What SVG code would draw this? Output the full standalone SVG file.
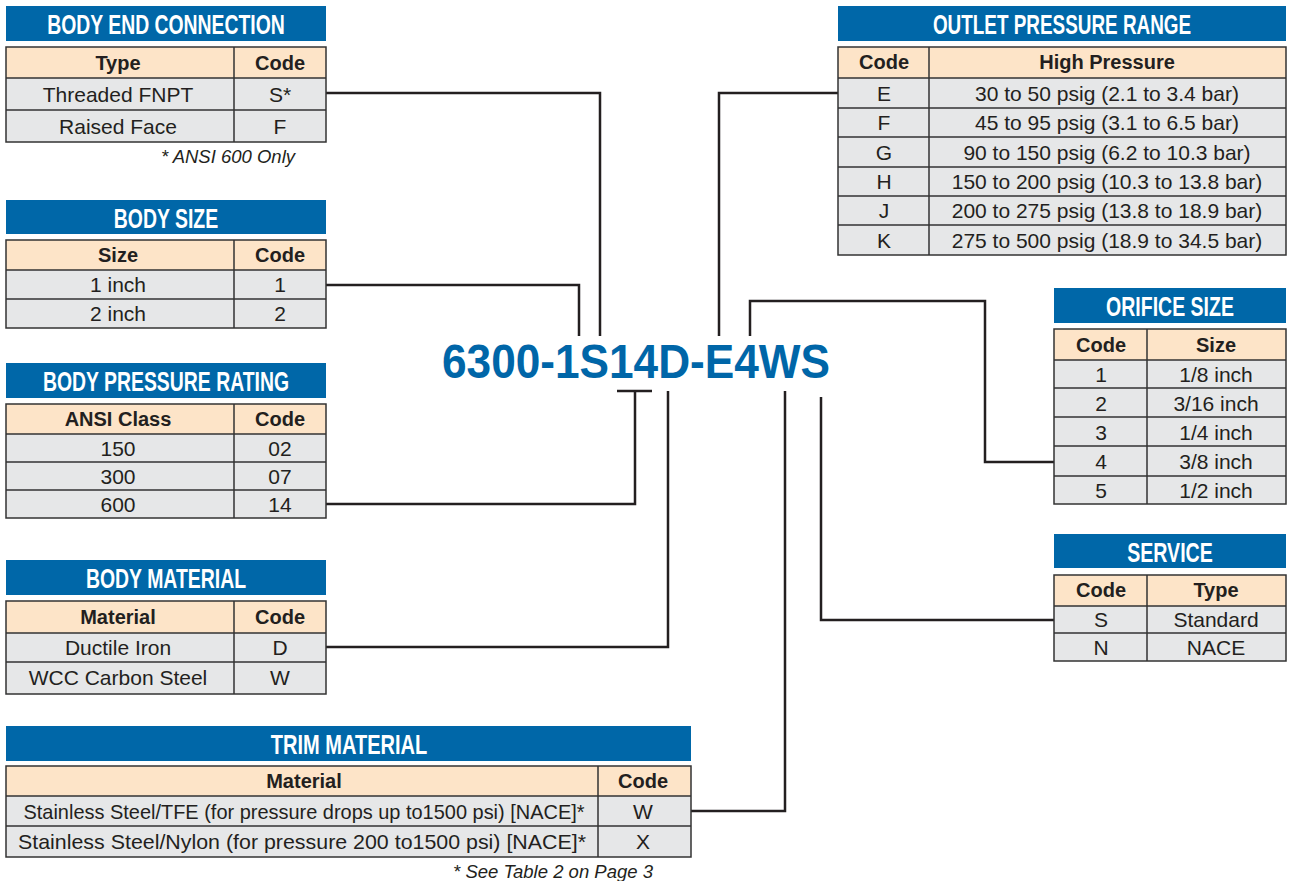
<svg xmlns="http://www.w3.org/2000/svg" width="1290" height="881" viewBox="0 0 1290 881">
<style>
.bn{fill:#0067a8}
.bt{font-family:"Liberation Sans",Arial,sans-serif;font-weight:bold;font-size:27px;fill:#fff;text-anchor:middle}
.hd{fill:#fde4c8}
.bd{fill:#e6e7e8}
.ln{stroke:#333;stroke-width:1.5;fill:none}
.ht{font-family:"Liberation Sans",Arial,sans-serif;font-weight:bold;font-size:20px;fill:#231f20;text-anchor:middle}
.ct{font-family:"Liberation Sans",Arial,sans-serif;font-size:21px;fill:#231f20;text-anchor:middle}
.fn{font-family:"Liberation Sans",Arial,sans-serif;font-style:italic;font-size:18.5px;fill:#231f20;text-anchor:middle}
.cn{stroke:#231f20;stroke-width:2.5;fill:none}
.code{font-family:"Liberation Sans",Arial,sans-serif;font-weight:bold;font-size:48px;fill:#0066a8}
</style>
<rect width="1290" height="881" fill="#fff"/>

<g id="connectors">
<polyline class="cn" points="326,93 600,93 600,336"/>
<polyline class="cn" points="326,285 579,285 579,336"/>
<polyline class="cn" points="838,93 719,93 719,336"/>
<polyline class="cn" points="750,336 750,301 985,301 985,462 1054,462"/>
<line class="cn" x1="617" y1="391" x2="652" y2="391"/>
<polyline class="cn" points="635,391 635,504 326,504"/>
<polyline class="cn" points="668,391 668,647 326,647"/>
<polyline class="cn" points="785,391 785,811 691,811"/>
<polyline class="cn" points="821,397 821,620 1054,620"/>
</g>

<g id="model-code">
<text class="code" x="442" y="378" textLength="388" lengthAdjust="spacingAndGlyphs">6300-1S14D-E4WS</text>
</g>

<g id="body-end-connection">
<rect class="bn" x="6" y="6" width="320" height="35"/>
<text class="bt" transform="translate(166,34) scale(0.718,1)">BODY END CONNECTION</text>
<rect class="hd" x="6" y="47" width="320" height="31"/>
<rect class="bd" x="6" y="78" width="320" height="64"/>
<rect class="ln" x="6" y="47" width="320" height="95"/>
<path class="ln" d="M6,78H326M6,110H326M234,47V142"/>
<text class="ht" x="118" y="70">Type</text><text class="ht" x="280" y="70">Code</text>
<text class="ct" x="118" y="102">Threaded FNPT</text><text class="ct" x="280" y="102">S*</text>
<text class="ct" x="118" y="134">Raised Face</text><text class="ct" x="280" y="134">F</text>
<text class="fn" x="228" y="163">* ANSI 600 Only</text>
</g>

<g id="body-size">
<rect class="bn" x="6" y="200" width="320" height="34"/>
<text class="bt" transform="translate(166,228) scale(0.72,1)">BODY SIZE</text>
<rect class="hd" x="6" y="240" width="320" height="30"/>
<rect class="bd" x="6" y="270" width="320" height="58"/>
<rect class="ln" x="6" y="240" width="320" height="88"/>
<path class="ln" d="M6,270H326M6,299H326M234,240V328"/>
<text class="ht" x="118" y="262">Size</text><text class="ht" x="280" y="262">Code</text>
<text class="ct" x="118" y="292">1 inch</text><text class="ct" x="280" y="292">1</text>
<text class="ct" x="118" y="321">2 inch</text><text class="ct" x="280" y="321">2</text>
</g>

<g id="body-pressure-rating">
<rect class="bn" x="6" y="363" width="320" height="35"/>
<text class="bt" transform="translate(166,391) scale(0.719,1)">BODY PRESSURE RATING</text>
<rect class="hd" x="6" y="404" width="320" height="30"/>
<rect class="bd" x="6" y="434" width="320" height="84"/>
<rect class="ln" x="6" y="404" width="320" height="114"/>
<path class="ln" d="M6,434H326M6,462H326M6,490H326M234,404V518"/>
<text class="ht" x="118" y="426">ANSI Class</text><text class="ht" x="280" y="426">Code</text>
<text class="ct" x="118" y="456">150</text><text class="ct" x="280" y="456">02</text>
<text class="ct" x="118" y="484">300</text><text class="ct" x="280" y="484">07</text>
<text class="ct" x="118" y="512">600</text><text class="ct" x="280" y="512">14</text>
</g>

<g id="body-material">
<rect class="bn" x="6" y="560" width="320" height="35"/>
<text class="bt" transform="translate(166,588) scale(0.72,1)">BODY MATERIAL</text>
<rect class="hd" x="6" y="601" width="320" height="32"/>
<rect class="bd" x="6" y="633" width="320" height="61"/>
<rect class="ln" x="6" y="601" width="320" height="93"/>
<path class="ln" d="M6,633H326M6,662H326M234,601V694"/>
<text class="ht" x="118" y="624">Material</text><text class="ht" x="280" y="624">Code</text>
<text class="ct" x="118" y="655">Ductile Iron</text><text class="ct" x="280" y="655">D</text>
<text class="ct" x="118" y="685">WCC Carbon Steel</text><text class="ct" x="280" y="685">W</text>
</g>

<g id="trim-material">
<rect class="bn" x="6" y="726" width="685" height="35"/>
<text class="bt" transform="translate(349,754) scale(0.742,1)">TRIM MATERIAL</text>
<rect class="hd" x="6" y="766" width="685" height="30"/>
<rect class="bd" x="6" y="796" width="685" height="61"/>
<rect class="ln" x="6" y="766" width="685" height="91"/>
<path class="ln" d="M6,796H691M6,826H691M598,766V857"/>
<text class="ht" x="304" y="788">Material</text><text class="ht" x="643" y="788">Code</text>
<text class="ct" x="304" y="819" textLength="561" lengthAdjust="spacingAndGlyphs">Stainless Steel/TFE (for pressure drops up to1500 psi) [NACE]*</text><text class="ct" x="643" y="819">W</text>
<text class="ct" x="302" y="849" textLength="568" lengthAdjust="spacingAndGlyphs">Stainless Steel/Nylon (for pressure 200 to1500 psi) [NACE]*</text><text class="ct" x="643" y="849">X</text>
<text class="fn" x="553" y="878">* See Table 2 on Page 3</text>
</g>

<g id="outlet-pressure-range">
<rect class="bn" x="838" y="6" width="448" height="35"/>
<text class="bt" transform="translate(1062,34) scale(0.70,1)">OUTLET PRESSURE RANGE</text>
<rect class="hd" x="838" y="47" width="448" height="31"/>
<rect class="bd" x="838" y="78" width="448" height="177"/>
<rect class="ln" x="838" y="47" width="448" height="208"/>
<path class="ln" d="M838,78H1286M838,108H1286M838,137H1286M838,167H1286M838,196H1286M838,225H1286M929,47V255"/>
<text class="ht" x="884" y="69">Code</text><text class="ht" x="1107" y="69">High Pressure</text>
<text class="ct" x="884" y="101">E</text><text class="ct" x="1107" y="101">30 to 50 psig (2.1 to 3.4 bar)</text>
<text class="ct" x="884" y="130">F</text><text class="ct" x="1107" y="130">45 to 95 psig (3.1 to 6.5 bar)</text>
<text class="ct" x="884" y="160">G</text><text class="ct" x="1107" y="160">90 to 150 psig (6.2 to 10.3 bar)</text>
<text class="ct" x="884" y="189">H</text><text class="ct" x="1107" y="189">150 to 200 psig (10.3 to 13.8 bar)</text>
<text class="ct" x="884" y="218">J</text><text class="ct" x="1107" y="218">200 to 275 psig (13.8 to 18.9 bar)</text>
<text class="ct" x="884" y="248">K</text><text class="ct" x="1107" y="248">275 to 500 psig (18.9 to 34.5 bar)</text>
</g>

<g id="orifice-size">
<rect class="bn" x="1054" y="288" width="232" height="35"/>
<text class="bt" transform="translate(1170,316) scale(0.723,1)">ORIFICE SIZE</text>
<rect class="hd" x="1054" y="329" width="232" height="31"/>
<rect class="bd" x="1054" y="360" width="232" height="144"/>
<rect class="ln" x="1054" y="329" width="232" height="175"/>
<path class="ln" d="M1054,360H1286M1054,388H1286M1054,417H1286M1054,446H1286M1054,476H1286M1147,329V504"/>
<text class="ht" x="1101" y="352">Code</text><text class="ht" x="1216" y="352">Size</text>
<text class="ct" x="1101" y="382">1</text><text class="ct" x="1216" y="382">1/8 inch</text>
<text class="ct" x="1101" y="411">2</text><text class="ct" x="1216" y="411">3/16 inch</text>
<text class="ct" x="1101" y="440">3</text><text class="ct" x="1216" y="440">1/4 inch</text>
<text class="ct" x="1101" y="469">4</text><text class="ct" x="1216" y="469">3/8 inch</text>
<text class="ct" x="1101" y="498">5</text><text class="ct" x="1216" y="498">1/2 inch</text>
</g>

<g id="service">
<rect class="bn" x="1054" y="534" width="232" height="34"/>
<text class="bt" transform="translate(1170,562) scale(0.726,1)">SERVICE</text>
<rect class="hd" x="1054" y="575" width="232" height="31"/>
<rect class="bd" x="1054" y="606" width="232" height="55"/>
<rect class="ln" x="1054" y="575" width="232" height="86"/>
<path class="ln" d="M1054,606H1286M1054,633H1286M1147,575V661"/>
<text class="ht" x="1101" y="597">Code</text><text class="ht" x="1216" y="597">Type</text>
<text class="ct" x="1101" y="627">S</text><text class="ct" x="1216" y="627">Standard</text>
<text class="ct" x="1101" y="655">N</text><text class="ct" x="1216" y="655">NACE</text>
</g>
</svg>
